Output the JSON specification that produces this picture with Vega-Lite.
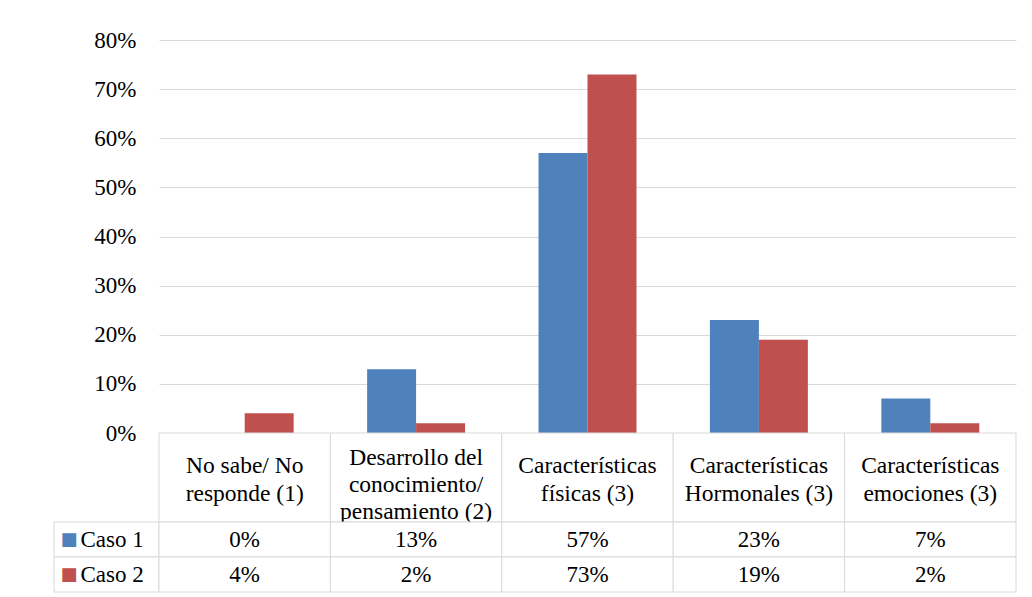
{
  "$schema": "https://vega.github.io/schema/vega-lite/v6.json",
  "background": "white",
  "padding": {"left": 53, "top": 29, "right": 10, "bottom": 0},
  "bounds": "flush",
  "spacing": 0,
  "columns": 2,
  "datasets": {
    "bars": [
      {"cat": "c1", "serie": "Caso 1", "value": 0},
      {"cat": "c1", "serie": "Caso 2", "value": 0.04},
      {"cat": "c2", "serie": "Caso 1", "value": 0.13},
      {"cat": "c2", "serie": "Caso 2", "value": 0.02},
      {"cat": "c3", "serie": "Caso 1", "value": 0.57},
      {"cat": "c3", "serie": "Caso 2", "value": 0.73},
      {"cat": "c4", "serie": "Caso 1", "value": 0.23},
      {"cat": "c4", "serie": "Caso 2", "value": 0.19},
      {"cat": "c5", "serie": "Caso 1", "value": 0.07},
      {"cat": "c5", "serie": "Caso 2", "value": 0.02}
    ],
    "cats": [
      {"cat": "c1", "label": "No sabe/ No\nresponde (1)"},
      {"cat": "c2", "label": "Desarrollo del\nconocimiento/\npensamiento (2)"},
      {"cat": "c3", "label": "Características\nfísicas (3)"},
      {"cat": "c4", "label": "Características\nHormonales (3)"},
      {"cat": "c5", "label": "Características\nemociones (3)"}
    ],
    "series": [
      {"serie": "Caso 1"},
      {"serie": "Caso 2"}
    ]
  },
  "concat": [
    {
      "width": 105,
      "height": 393,
      "data": {"values": [{}]},
      "mark": {"type": "text", "text": ""},
      "encoding": {}
    },
    {
      "width": 857,
      "height": 393,
      "data": {"name": "bars"},
      "mark": {"type": "bar"},
      "encoding": {
        "x": {"field": "cat", "type": "nominal", "scale": {"domain": ["c1", "c2", "c3", "c4", "c5"], "paddingInner": 0.4286, "paddingOuter": 0.2143}, "axis": null},
        "xOffset": {"field": "serie", "type": "nominal", "scale": {"domain": ["Caso 1", "Caso 2"], "paddingInner": 0, "paddingOuter": 0}},
        "y": {"field": "value", "type": "quantitative", "scale": {"domain": [0, 0.8], "nice": false},
          "axis": {"values": [0, 0.1, 0.2, 0.3, 0.4, 0.5, 0.6, 0.7, 0.8], "format": ".0%", "title": null, "grid": true, "gridColor": "#d9d9d9", "gridWidth": 1, "domain": false, "ticks": false, "labelPadding": 23, "labelFont": "Liberation Serif, Times New Roman, serif", "labelFontSize": 23, "labelColor": "black"}},
        "color": {"field": "serie", "type": "nominal", "scale": {"domain": ["Caso 1", "Caso 2"], "range": ["#4f81bd", "#c0504d"]}, "legend": null}
      }
    },
    {
      "width": 105,
      "height": 89,
      "data": {"values": [{}]},
      "mark": {"type": "text", "text": ""},
      "encoding": {}
    },
    {
      "width": 857,
      "height": 89,
      "data": {"name": "cats"},
      "layer": [
        {
          "mark": {"type": "rect", "fill": "white", "stroke": "#d9d9d9", "strokeWidth": 1},
          "encoding": {
            "x": {"field": "cat", "type": "nominal", "scale": {"domain": ["c1", "c2", "c3", "c4", "c5"], "paddingInner": 0, "paddingOuter": 0}, "axis": null}
          }
        },
        {
          "transform": [{"filter": "datum.cat != 'c2'"}],
          "mark": {"type": "text", "lineBreak": "\n", "lineHeight": 28.5, "baseline": "alphabetic", "dy": -5, "fontSize": 23.5, "color": "black"},
          "encoding": {
            "x": {"field": "cat", "type": "nominal", "axis": null},
            "text": {"field": "label"}
          }
        },
        {
          "transform": [{"filter": "datum.cat == 'c2'"}],
          "mark": {"type": "text", "lineBreak": "\n", "lineHeight": 27, "baseline": "alphabetic", "dy": -13, "fontSize": 23.5, "color": "black"},
          "encoding": {
            "x": {"field": "cat", "type": "nominal", "axis": null},
            "text": {"field": "label"}
          }
        }
      ]
    },
    {
      "width": 105,
      "height": 70,
      "data": {"name": "series"},
      "layer": [
        {
          "mark": {"type": "rect", "fill": "white", "stroke": "#d9d9d9", "strokeWidth": 1},
          "encoding": {
            "y": {"field": "serie", "type": "nominal", "scale": {"domain": ["Caso 1", "Caso 2"], "paddingInner": 0, "paddingOuter": 0}, "axis": null}
          }
        },
        {
          "mark": {"type": "text", "text": "■", "font": "DejaVu Sans", "fontSize": 18, "dx": -37.5},
          "encoding": {
            "y": {"field": "serie", "type": "nominal", "axis": null},
            "color": {"field": "serie", "type": "nominal", "scale": {"domain": ["Caso 1", "Caso 2"], "range": ["#4f81bd", "#c0504d"]}, "legend": null}
          }
        },
        {
          "mark": {"type": "text", "align": "left", "dx": -26, "color": "black"},
          "encoding": {
            "y": {"field": "serie", "type": "nominal", "axis": null},
            "text": {"field": "serie"}
          }
        }
      ]
    },
    {
      "width": 857,
      "height": 70,
      "data": {"name": "bars"},
      "layer": [
        {
          "mark": {"type": "rect", "fill": "white", "stroke": "#d9d9d9", "strokeWidth": 1},
          "encoding": {
            "x": {"field": "cat", "type": "nominal", "scale": {"domain": ["c1", "c2", "c3", "c4", "c5"], "paddingInner": 0, "paddingOuter": 0}, "axis": null},
            "y": {"field": "serie", "type": "nominal", "scale": {"domain": ["Caso 1", "Caso 2"], "paddingInner": 0, "paddingOuter": 0}, "axis": null}
          }
        },
        {
          "mark": {"type": "text", "color": "black"},
          "encoding": {
            "x": {"field": "cat", "type": "nominal", "axis": null},
            "y": {"field": "serie", "type": "nominal", "axis": null},
            "text": {"field": "value", "type": "quantitative", "format": ".0%"}
          }
        }
      ]
    }
  ],
  "config": {
    "view": {"stroke": null},
    "text": {"font": "Liberation Serif, Times New Roman, serif", "fontSize": 23}
  }
}
